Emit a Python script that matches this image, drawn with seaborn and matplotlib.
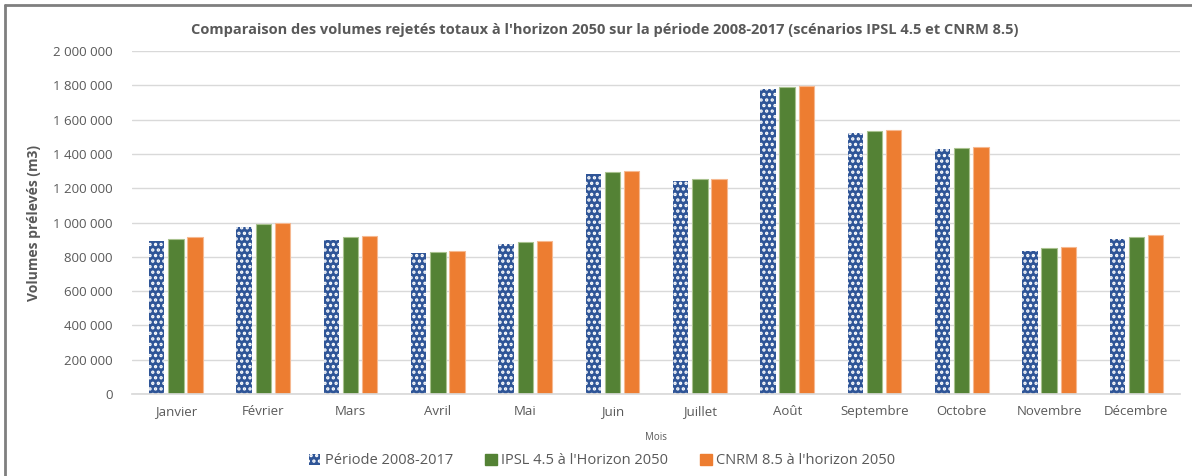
import numpy as np
import pandas as pd
import matplotlib
matplotlib.use("Agg")
import matplotlib.pyplot as plt
from matplotlib.lines import Line2D
from matplotlib.patches import Patch
from matplotlib.ticker import FuncFormatter
import seaborn as sns

mois = ["Janvier", "Février", "Mars", "Avril", "Mai", "Juin", "Juillet",
        "Août", "Septembre", "Octobre", "Novembre", "Décembre"]
series = ["Période 2008-2017", "IPSL 4.5 à l'Horizon 2050", "CNRM 8.5 à l'horizon 2050"]
periode_2008_2017 = [892000, 974000, 898000, 820000, 875000, 1283000, 1240000,
                     1778000, 1524000, 1429000, 836000, 902000]
ipsl_45_2050 = [906000, 991000, 914000, 828000, 884000, 1293000, 1252000,
                1790000, 1533000, 1434000, 849000, 917000]
cnrm_85_2050 = [915000, 997000, 921000, 836000, 892000, 1298000, 1254000,
                1793000, 1539000, 1440000, 857000, 925000]

colors = ["#2F5597", "#548235", "#ED7D31"]
edge_colors = ["#8FA6D0", "#A9C28F", "#F6B890"]

df = pd.DataFrame({
    "Mois": mois * 3,
    "Série": [series[0]] * 12 + [series[1]] * 12 + [series[2]] * 12,
    "Volume": periode_2008_2017 + ipsl_45_2050 + cnrm_85_2050,
})

sns.set_theme(style="white")
plt.rcParams["font.family"] = ["Open Sans", "DejaVu Sans"]
plt.rcParams["hatch.linewidth"] = 1.6

fig = plt.figure(figsize=(11.92, 4.76), dpi=100)
ax = fig.add_axes([0.111, 0.172, 0.879, 0.721])

sns.barplot(data=df, x="Mois", y="Volume", hue="Série", order=mois,
            hue_order=series, palette=colors, width=0.66, gap=0.2,
            ax=ax, legend=False, saturation=1)

# style each series' bars: dotted pattern for the reference period
for i, cont in enumerate(ax.containers):
    for p in cont:
        if i == 0:
            p.set_facecolor(colors[0])
            p.set_edgecolor("white")
            p.set_hatch("...")
            p.set_linewidth(0)
        else:
            p.set_edgecolor(edge_colors[i])
            p.set_linewidth(0.8)

ax.set_ylim(0, 2000000)
ax.set_yticks(np.arange(0, 2000001, 200000))
ax.yaxis.set_major_formatter(FuncFormatter(lambda v, _: f"{int(v):,}".replace(",", " ")))
ax.grid(axis="y", color="#D9D9D9", linewidth=1)
ax.set_axisbelow(True)
for s in ["top", "right", "left"]:
    ax.spines[s].set_visible(False)
ax.spines["bottom"].set_color("#D9D9D9")
ax.tick_params(axis="both", length=0, labelsize=9.5, labelcolor="#595959", pad=8)
ax.tick_params(axis="y", pad=14)

ax.set_xlabel("Mois", fontsize=7, color="#595959", labelpad=6)
ax.xaxis.set_label_coords(0.5, -0.11)
ax.set_ylabel("Volumes prélevés (m3)", fontsize=10, fontweight="bold", color="#595959", labelpad=9)

fig.text(0.507, 0.937, "Comparaison des volumes rejetés totaux à l'horizon 2050 sur la période 2008-2017 (scénarios IPSL 4.5 et CNRM 8.5)",
         ha="center", va="center", fontsize=10.5, fontweight="bold", color="#595959")

handles = [Patch(facecolor=colors[0], edgecolor="white", hatch="...", linewidth=0),
           Patch(facecolor=colors[1], edgecolor=colors[1]),
           Patch(facecolor=colors[2], edgecolor=colors[2])]
fig.legend(handles, series, loc="center", bbox_to_anchor=(0.505, 0.032), ncol=3,
           frameon=False, fontsize=10.5, labelcolor="#595959",
           handlelength=0.8, handleheight=0.8, handletextpad=0.3, columnspacing=2.2)

# outer frame
fig.add_artist(Line2D([0.004, 0.004], [0, 0.99], transform=fig.transFigure, color="#7F7F7F", linewidth=2))
fig.add_artist(Line2D([0.004, 1], [0.99, 0.99], transform=fig.transFigure, color="#7F7F7F", linewidth=2))

fig.savefig("out.png", dpi=100)
